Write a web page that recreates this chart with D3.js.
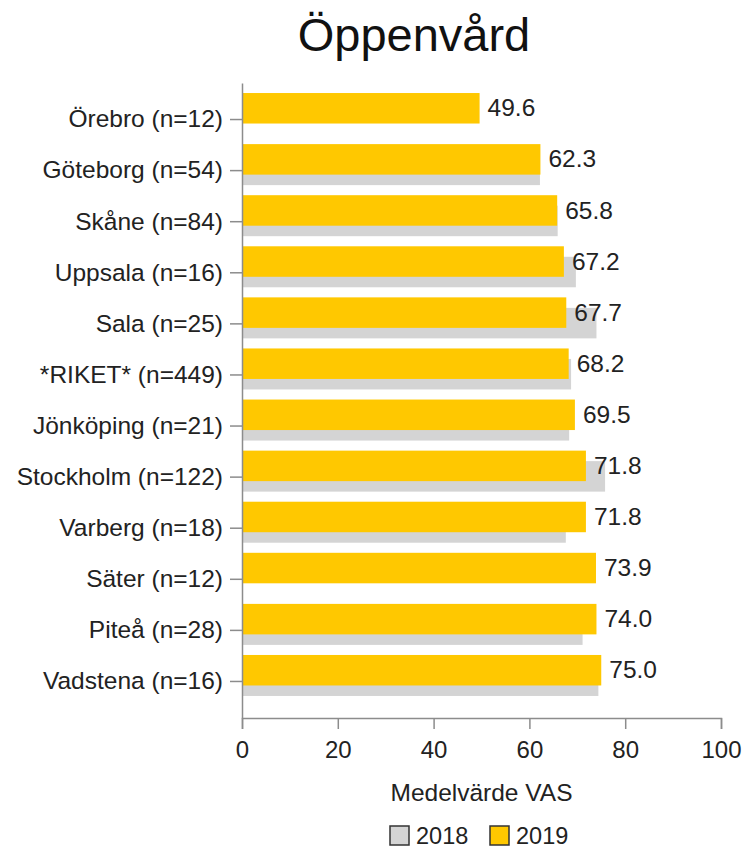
<!DOCTYPE html>
<html>
<head>
<meta charset="utf-8">
<script src="https://cdn.jsdelivr.net/npm/d3@7"></script>
<style>
  body { margin: 0; background: #fff; }
  svg { font-family: "Liberation Sans", Arial, sans-serif; }
</style>
</head>
<body>
<svg width="751" height="850"></svg>
<script>
var categories = ["Örebro (n=12)", "Göteborg (n=54)", "Skåne (n=84)", "Uppsala (n=16)",
    "Sala (n=25)", "*RIKET* (n=449)", "Jönköping (n=21)", "Stockholm (n=122)",
    "Varberg (n=18)", "Säter (n=12)", "Piteå (n=28)", "Vadstena (n=16)"];
var values2019 = [49.6, 62.3, 65.8, 67.2, 67.7, 68.2, 69.5, 71.8, 71.8, 73.9, 74.0, 75.0];
var values2018 = [null, 62.2, 65.9, 69.7, 74.0, 68.7, 68.3, 75.8, 67.6, null, 71.1, 74.4];
var xTicks = [0, 20, 40, 60, 80, 100];
var seriesNames = ["2018", "2019"];

var svg = d3.select("svg"),
    plotLeft = 242, plotRight = 721,
    plotTop = 83, plotBottom = 718,
    yellow = "#ffc800",
    grey = "#d4d4d4",
    axisColor = "#8c8c8c",
    textColor = "#222",
    labelSize = "24.5px";

var x = d3.scaleLinear().domain([0, 100]).range([plotLeft, plotRight]);

var y = d3.scaleBand()
    .domain(categories)
    .range([plotTop, plotBottom])
    .paddingInner(0)
    .paddingOuter(0.215);

var rows = categories.map(function(c, i) {
    return { name: c, v2019: values2019[i], v2018: values2018[i] };
});

// title
svg.append("text")
    .attr("x", 414)
    .attr("y", 51)
    .attr("text-anchor", "middle")
    .style("font-size", "47px")
    .style("fill", "#111")
    .text("Öppenvård");

// 2018 bars (behind, shifted down)
svg.selectAll(".bar2018")
    .data(rows.filter(function(d) { return d.v2018 != null; }))
    .enter().append("rect")
    .attr("class", "bar2018")
    .attr("x", x(0))
    .attr("y", function(d) { return y(d.name) + y.bandwidth() / 2 - 16; })
    .attr("width", function(d) { return x(d.v2018) - x(0); })
    .attr("height", 30.5)
    .style("fill", grey);

// 2019 bars
svg.selectAll(".bar2019")
    .data(rows)
    .enter().append("rect")
    .attr("class", "bar2019")
    .attr("x", x(0))
    .attr("y", function(d) { return y(d.name) + y.bandwidth() / 2 - 26.5; })
    .attr("width", function(d) { return x(d.v2019) - x(0); })
    .attr("height", 30.5)
    .style("fill", yellow);

// value labels
svg.selectAll(".val")
    .data(rows)
    .enter().append("text")
    .attr("class", "val")
    .attr("x", function(d) { return x(d.v2019) + 8; })
    .attr("y", function(d) { return y(d.name) + y.bandwidth() / 2 - 12; })
    .attr("dy", "0.36em")
    .style("font-size", labelSize)
    .style("fill", textColor)
    .text(function(d) { return d.v2019.toFixed(1); });

// axes
var yAxis = svg.append("g")
    .attr("transform", "translate(" + plotLeft + ",0)")
    .call(d3.axisLeft(y).tickSize(12).tickSizeOuter(0).tickPadding(7));

var xAxis = svg.append("g")
    .attr("transform", "translate(0," + plotBottom + ")")
    .call(d3.axisBottom(x).tickValues(xTicks).tickSize(11).tickPadding(12));

[yAxis, xAxis].forEach(function(g) {
    g.selectAll("path, line").style("stroke", axisColor).style("stroke-width", 1.5);
    g.selectAll("text").style("font-size", labelSize).style("fill", textColor)
        .style("font-family", "'Liberation Sans', Arial, sans-serif");
});
xAxis.selectAll("text").style("font-size", "24px");

// x axis title
svg.append("text")
    .attr("x", (plotLeft + plotRight) / 2)
    .attr("y", 792)
    .attr("dy", "0.36em")
    .attr("text-anchor", "middle")
    .style("font-size", labelSize)
    .style("fill", textColor)
    .text("Medelvärde VAS");

// legend
var legend = svg.append("g").attr("transform", "translate(390,826)");
var legendItems = legend.selectAll("g")
    .data(seriesNames)
    .enter().append("g")
    .attr("transform", function(d, i) { return "translate(" + (i * 100) + ",0)"; });

legendItems.append("rect")
    .attr("width", 19)
    .attr("height", 19)
    .style("fill", function(d, i) { return i === 0 ? grey : yellow; })
    .style("stroke", "#333")
    .style("stroke-width", 1.5);

legendItems.append("text")
    .attr("x", 26)
    .attr("y", 10)
    .attr("dy", "0.36em")
    .style("font-size", "23.5px")
    .style("fill", textColor)
    .text(function(d) { return d; });
</script>
</body>
</html>
